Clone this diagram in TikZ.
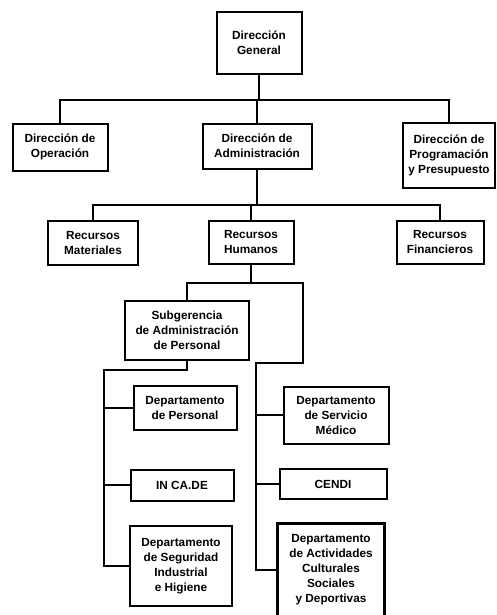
\documentclass[tikz,border=0pt]{standalone}
\usepackage{fontspec}
\setmainfont{Liberation Sans}
\usepackage{tikz}
\usetikzlibrary{positioning,calc}

\begin{document}
\begin{tikzpicture}[x=1pt,y=-1pt,
    font=\fontsize{11.8}{15}\selectfont\bfseries,
    unit/.style={draw=black,fill=white,line width=2pt,align=center,inner sep=2pt},
    conn/.style={black,line width=2pt}]
  \useasboundingbox (0,0) rectangle (496,615);
  \node[unit,minimum width=85pt,minimum height=62pt]  (dg)  at (259,43)  {Dirección\\General};
  \node[unit,minimum width=95pt,minimum height=47pt]  (dop) at (60,147)  {Dirección de\\Operación};
  \node[unit,minimum width=109pt,minimum height=45pt] (dad) at (257,146) {Dirección de\\Administración};
  \node[unit,minimum width=92pt,minimum height=65pt]  (dpp) at (449,155) {Dirección de\\Programación\\y Presupuesto};
  \node[unit,minimum width=90pt,minimum height=44pt]  (rm)  at (93,243)  {Recursos\\Materiales};
  \node[unit,minimum width=85pt,minimum height=43pt]  (rh)  at (251,242) {Recursos\\Humanos};
  \node[unit,minimum width=87pt,minimum height=43pt]  (rf)  at (440,242) {Recursos\\Financieros};
  \node[unit,minimum width=124pt,minimum height=59pt] (sub) at (187,330) {Subgerencia\\de Administración\\de Personal};
  \node[unit,minimum width=103pt,minimum height=44pt] (dpe) at (185,408) {Departamento\\de Personal};
  \node[unit,minimum width=105pt,minimum height=57pt] (dsm) at (336,415) {Departamento\\de Servicio\\Médico};
  \node[unit,minimum width=103pt,minimum height=31pt] (inc) at (182,485) {IN CA.DE};
  \node[unit,minimum width=107pt,minimum height=30pt] (cen) at (333,484) {CENDI};
  \node[unit,minimum width=102pt,minimum height=80pt] (dsh) at (181,566) {Departamento\\de Seguridad\\Industrial\\e Higiene};
  \node[unit,line width=3pt,minimum width=107pt,minimum height=94pt] (dac) at (331,570)
    {Departamento\\de Actividades\\Culturales\\Sociales\\y Deportivas};
  \coordinate (b1) at (256,100);
  \coordinate (b2) at (256,205);
  \coordinate (b3) at (252,283);
  \coordinate (lt) at (104,370);
  \coordinate (rt) at (303,363);
  \coordinate (rc) at (256,363);
  \draw[conn] (dg) -- (dg |- b1);
  \draw[conn] (dop) |- (b1) -| (dpp);
  \draw[conn] (dad) -- (dad |- b1);
  \draw[conn] (dad) -- (dad |- b2);
  \draw[conn] (rm) |- (b2) -| (rf);
  \draw[conn] (rh) -- (rh |- b2);
  \draw[conn] (rh) -- (rh |- b3);
  \draw[conn] (sub) |- (b3) -| (rt) -- (rc) |- (dac);
  \draw[conn] (sub) |- (lt) |- (dsh);
  \draw[conn] (lt |- dpe) -- (dpe);
  \draw[conn] (lt |- inc) -- (inc);
  \draw[conn] (rc |- dsm) -- (dsm);
  \draw[conn] (rc |- cen) -- (cen);
\end{tikzpicture}
\end{document}
